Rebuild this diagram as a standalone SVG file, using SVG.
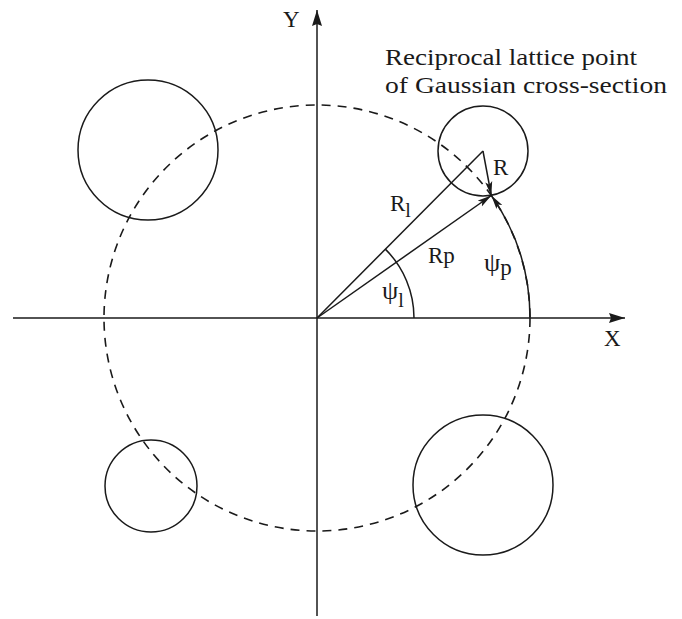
<svg xmlns="http://www.w3.org/2000/svg" width="682" height="619" viewBox="0 0 682 619">
<defs>
<style>
.ln{fill:none;stroke:#1a1a1a;stroke-width:1.5}
.dash{fill:none;stroke:#1a1a1a;stroke-width:1.6;stroke-dasharray:9 7}
.t{font-family:"Liberation Serif","Times New Roman",serif;fill:#1a1a1a;font-size:23px}
</style>
<marker id="ah" viewBox="0 0 14 8" refX="14" refY="4" markerWidth="14" markerHeight="8" markerUnits="userSpaceOnUse" orient="auto">
<path d="M0,0.5 L14,4 L0,7.5 L3,4 Z" fill="#1a1a1a"/>
</marker>
<marker id="axh" viewBox="0 0 16 10" refX="16" refY="5" markerWidth="16" markerHeight="10" markerUnits="userSpaceOnUse" orient="auto">
<path d="M0,0 L16,5 L0,10 L2,5 Z" fill="#1a1a1a"/>
</marker>
</defs>
<rect width="682" height="619" fill="#ffffff"/>
<g id="axes">
<line class="ln" x1="13" y1="318" x2="625" y2="318" marker-end="url(#axh)"/>
<line class="ln" x1="317" y1="616" x2="317" y2="10" marker-end="url(#axh)"/>
<text class="t" x="604" y="346">X</text>
<text class="t" x="283" y="27">Y</text>
</g>
<g id="dashed-circle">
<circle class="dash" cx="317" cy="318" r="213"/>
</g>
<g id="circle-top-left"><circle class="ln" cx="148" cy="150" r="70"/></g>
<g id="circle-bottom-left"><circle class="ln" cx="151" cy="486" r="46"/></g>
<g id="circle-bottom-right"><circle class="ln" cx="483" cy="485" r="70"/></g>
<g id="circle-top-right"><circle class="ln" cx="483" cy="151" r="45"/></g>
<g id="connectors">
<line class="ln" x1="317" y1="318" x2="483" y2="151"/>
<line class="ln" x1="317" y1="318" x2="491.3" y2="195.5" marker-end="url(#ah)"/>
<line class="ln" x1="483" y1="151" x2="491.3" y2="195.5" marker-end="url(#ah)"/>
<path class="ln" d="M414,318 A97,97 0 0 0 385.3,249.1"/>
<path class="ln" stroke-width="1.7" d="M530,318 A213,213 0 0 0 491.3,195.5" marker-end="url(#ah)"/>
</g>
<g id="labels">
<text class="t" x="385" y="65" textLength="252" lengthAdjust="spacingAndGlyphs">Reciprocal lattice point</text>
<text class="t" x="385" y="93" textLength="282" lengthAdjust="spacingAndGlyphs">of Gaussian cross-section</text>
<text class="t" x="493" y="175">R</text>
<text class="t" x="390" y="211">R<tspan dy="6" font-size="20">l</tspan></text>
<text class="t" x="428" y="263">Rp</text>
<text class="t" x="382" y="299"><tspan font-size="26">ψ</tspan><tspan dy="8" font-size="20">l</tspan></text>
<text class="t" x="484" y="271"><tspan font-size="26">ψ</tspan><tspan dy="4">p</tspan></text>
</g>
</svg>
